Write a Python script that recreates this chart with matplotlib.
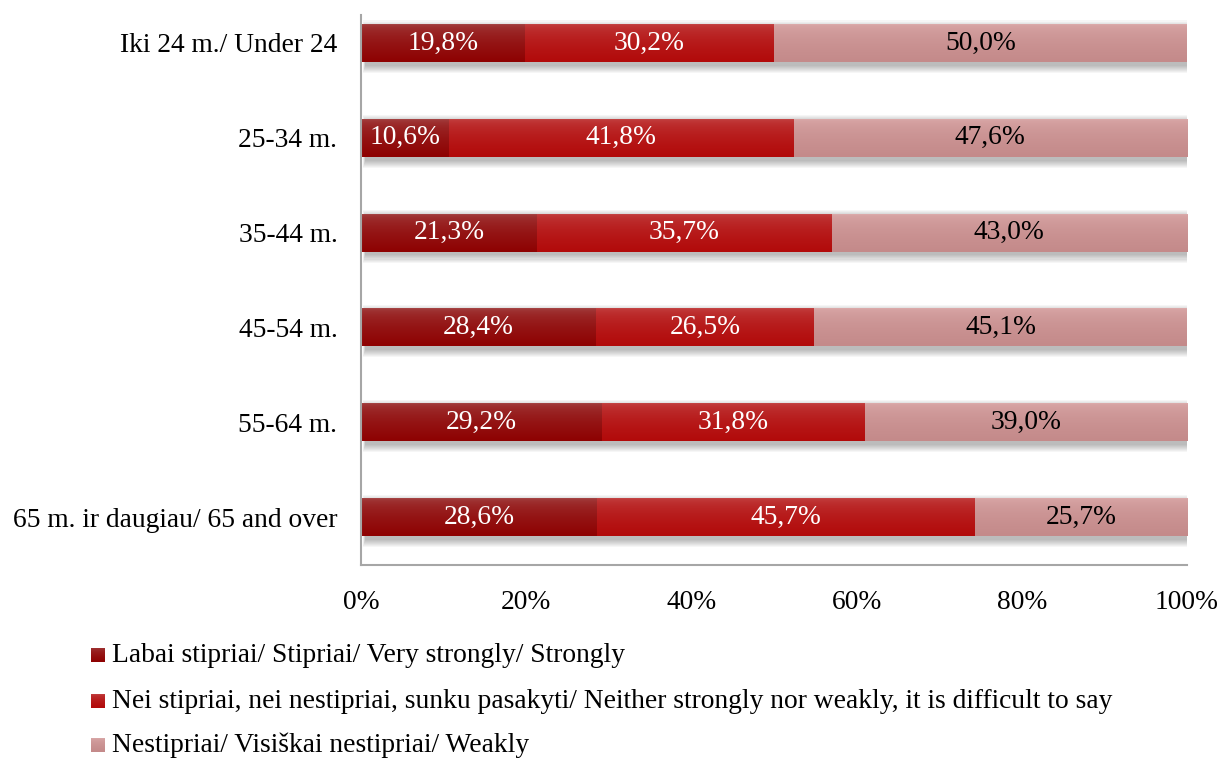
import numpy as np
import matplotlib
matplotlib.use("Agg")
import matplotlib.pyplot as plt
from matplotlib.patches import Rectangle
from matplotlib.colors import to_rgb

plt.rcParams['font.family'] = ['Liberation Serif', 'DejaVu Serif']

groups = ["Iki 24 m./ Under 24", "25-34 m.", "35-44 m.", "45-54 m.", "55-64 m.",
          "65 m. ir daugiau/ 65 and over"]
strong = [19.8, 10.6, 21.3, 28.4, 29.2, 28.6]
neutral = [30.2, 41.8, 35.7, 26.5, 31.8, 45.7]
weak = [50.0, 47.6, 43.0, 45.1, 39.0, 25.7]

series_names = ["Labai stipriai/ Stipriai/ Very strongly/ Strongly",
                "Nei stipriai, nei nestipriai, sunku pasakyti/ Neither strongly nor weakly, it is difficult to say",
                "Nestipriai/ Visiškai nestipriai/ Weakly"]
# (top colour, bottom colour) for each series
grads = [("#a54646", "#8e0202"), ("#c44646", "#b20a0a"), ("#dcabab", "#c48a8a")]
text_cols = ["white", "white", "black"]
FS = 19.8

fig = plt.figure(figsize=(12.2, 7.58), dpi=100)
ax = fig.add_axes([361/1220, 1 - 565/758, (1187 - 361)/1220, 550/758])

bar_h = 0.40
ylo, yhi = 5.506, -0.295


def gradient(c_top, c_bot, n=60):
    t = np.linspace(0, 1, n) ** 0.45
    a, b = np.array(to_rgb(c_top)), np.array(to_rgb(c_bot))
    col = a[None, :] * (1 - t[:, None]) + b[None, :] * t[:, None]
    return col[:, None, :]


data = [strong, neutral, weak]
for i in range(len(groups)):
    # soft shadow under each bar, built from stacked translucent rectangles
    for k in range(8):
        g = k * 0.011
        ax.add_patch(Rectangle((0.5 - g * 3, i - bar_h/2 + 0.04 - g),
                               100 + g * 6, bar_h + 2 * g,
                               facecolor="black", alpha=0.035, lw=0, zorder=1))
    left = 0
    for s, vals in enumerate(data):
        v = vals[i]
        ax.imshow(gradient(*grads[s]), extent=(left, left + v, i + bar_h/2, i - bar_h/2),
                  origin="upper", aspect="auto", interpolation="bilinear", zorder=2)
        lbl = f"{v:.1f}".replace(".", ",") + "%"
        ax.text(left + v/2, i, lbl, ha="center", va="center", fontsize=FS,
                color=text_cols[s], zorder=3)
        left += v

ax.set_xlim(0, 100)
ax.set_ylim(ylo, yhi)
ax.set_yticks(range(len(groups)))
ax.set_yticklabels(groups, fontsize=FS)
ax.set_xticks([0, 20, 40, 60, 80, 100])
ax.set_xticklabels(["0%", "20%", "40%", "60%", "80%", "100%"], fontsize=FS)
ax.tick_params(axis="both", length=0)
ax.tick_params(axis="y", pad=17)
ax.tick_params(axis="x", pad=18)
for sp in ["top", "right"]:
    ax.spines[sp].set_visible(False)
for sp in ["left", "bottom"]:
    ax.spines[sp].set_color("#a6a6a6")
    ax.spines[sp].set_linewidth(1.5)

# legend drawn below the plot, one entry per row
leg_y = [655, 701, 745]
for s, name in enumerate(series_names):
    y = leg_y[s]
    sq = fig.add_axes([91/1220, 1 - (y + 7)/758, 14/1220, 14/758])
    sq.imshow(gradient(*grads[s]), aspect="auto", interpolation="bilinear")
    sq.set_axis_off()
    fig.text(112/1220, 1 - y/758, name, ha="left", va="center", fontsize=FS)

fig.savefig("out.png", dpi=100)
